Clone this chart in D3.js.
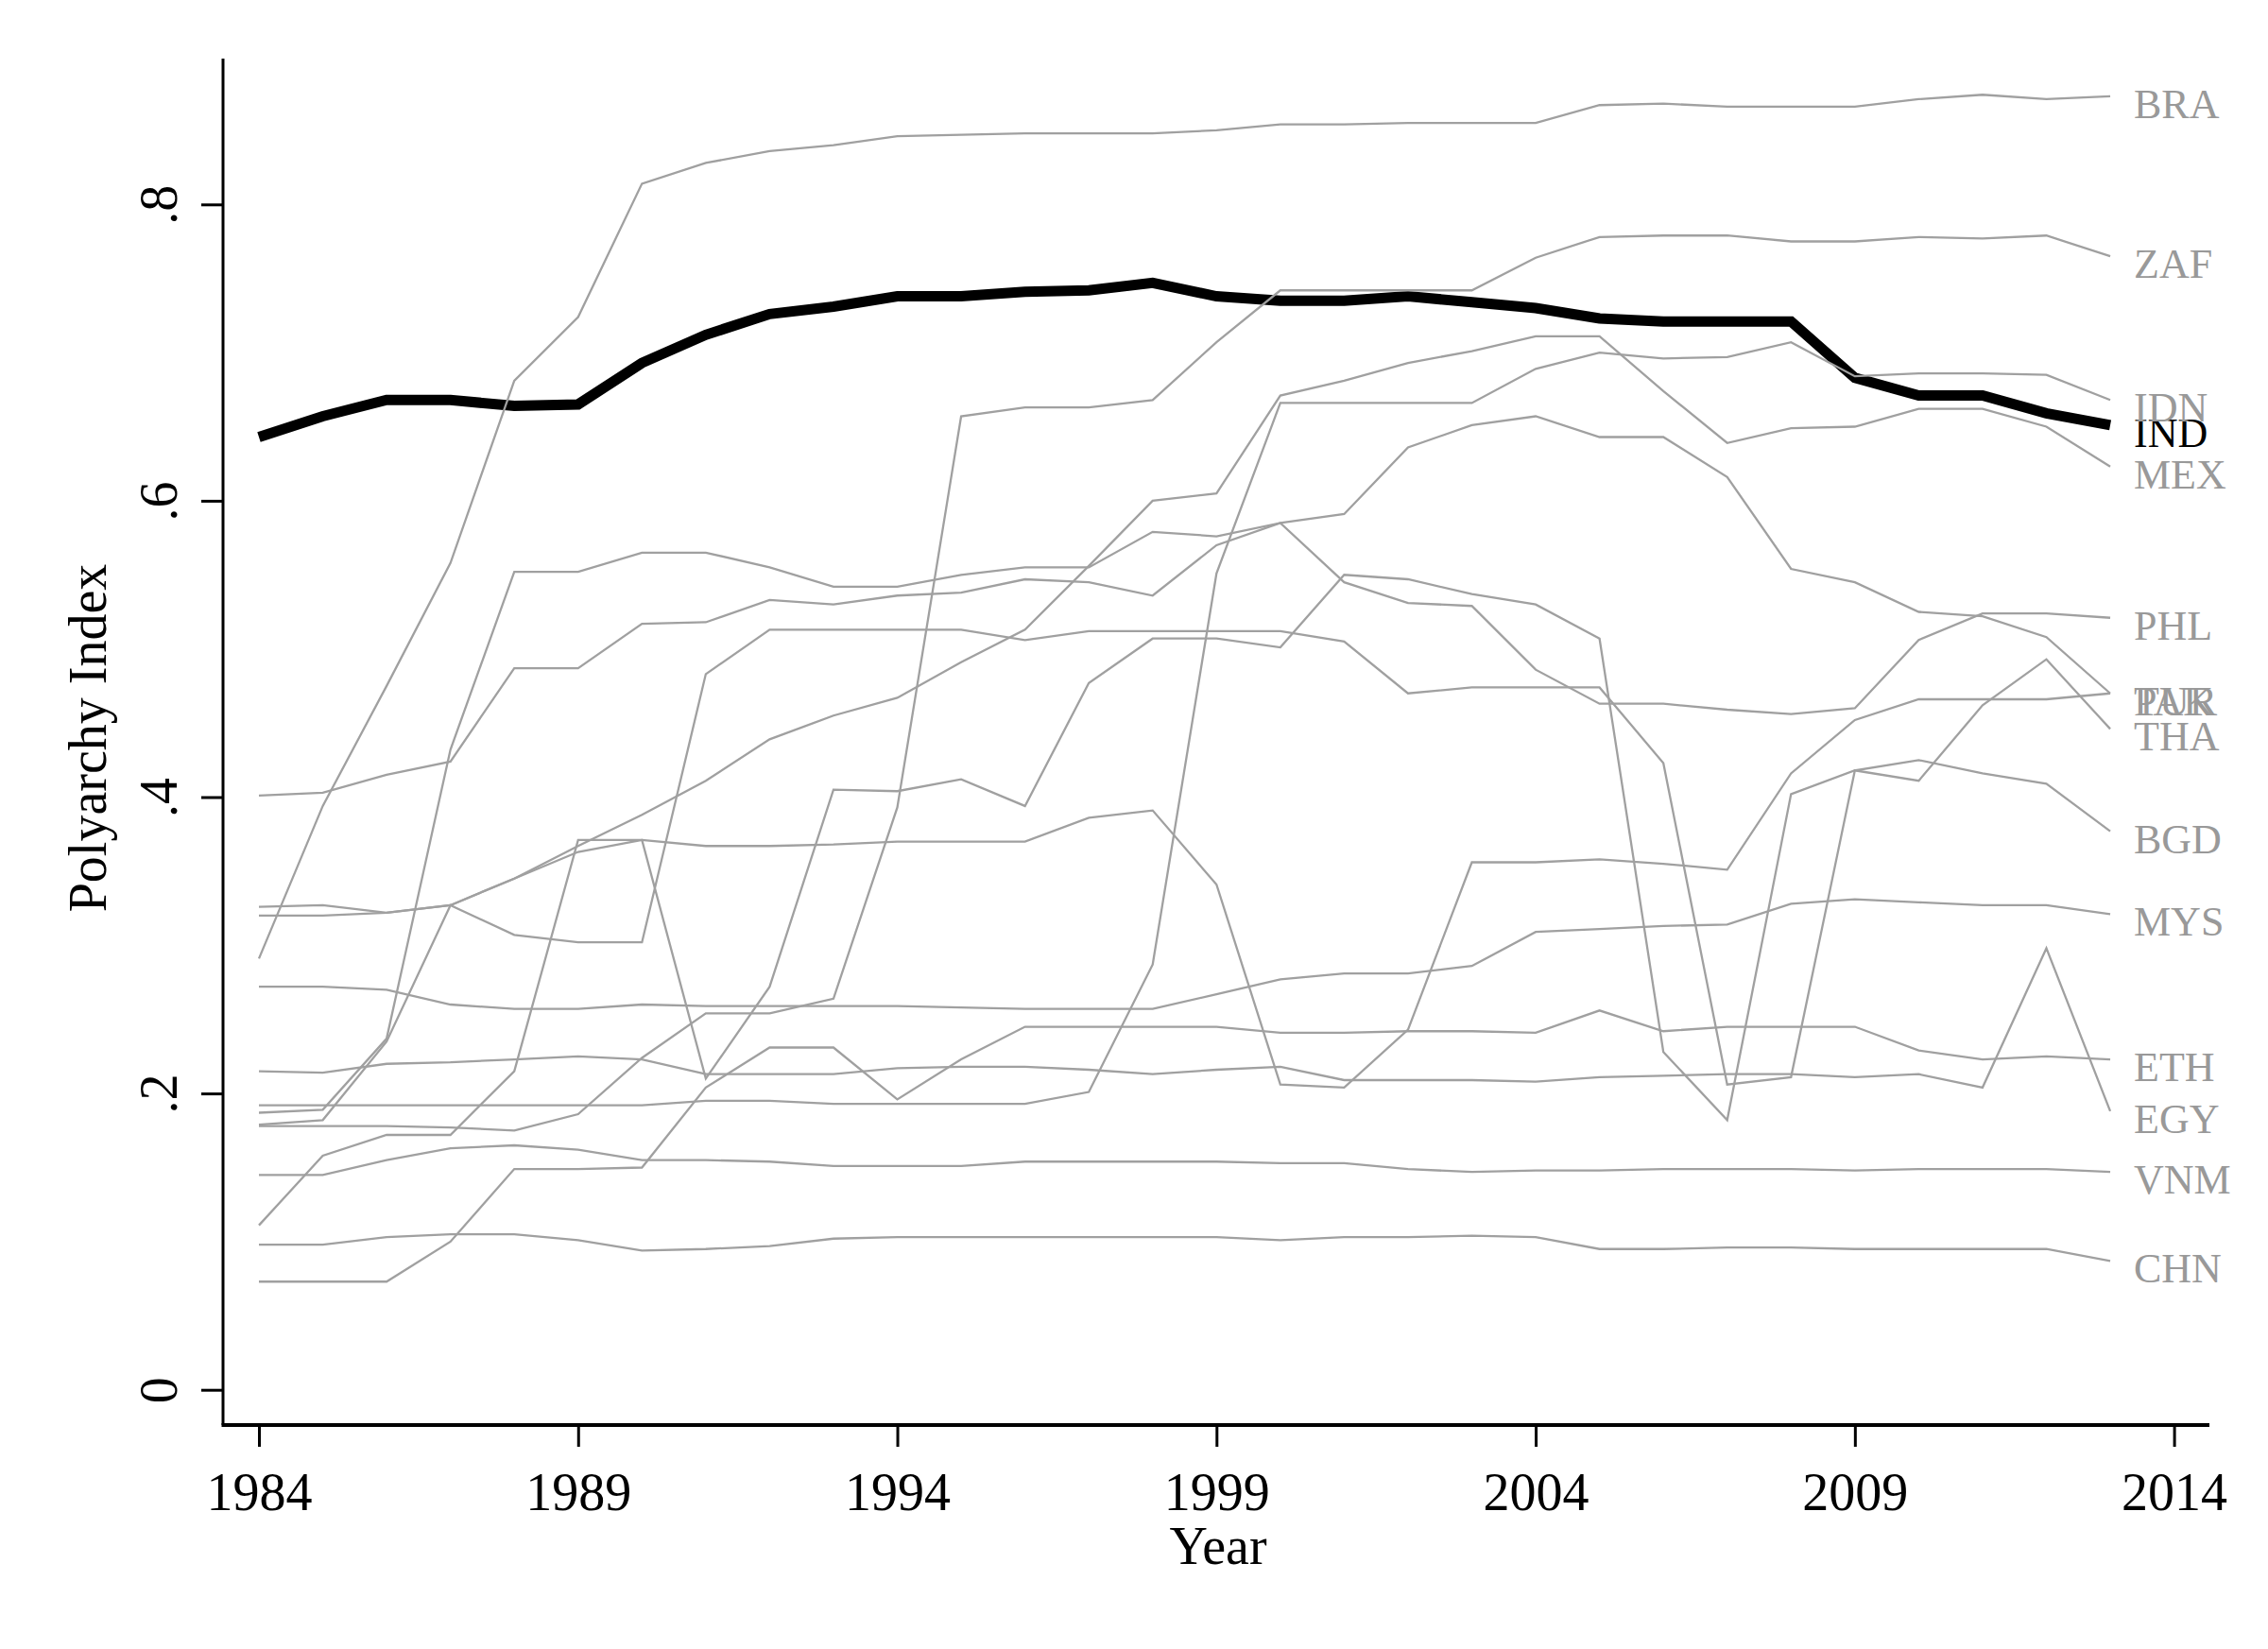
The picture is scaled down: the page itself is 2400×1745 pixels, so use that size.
<!DOCTYPE html>
<html>
<head>
<meta charset="utf-8">
<script src="https://cdn.jsdelivr.net/npm/d3@7/dist/d3.min.js"></script>
<style>
  body { margin: 0; background: #fff; }
  text { font-family: "Liberation Serif", "Times New Roman", serif; }
</style>
</head>
<body>
<div id="chart"></div>
<script>
var width = 2400,
    height = 1745;

// years on the x axis, one value per year for each country
var years = [1984, 1985, 1986, 1987, 1988, 1989, 1990, 1991, 1992, 1993,
             1994, 1995, 1996, 1997, 1998, 1999, 2000, 2001, 2002, 2003,
             2004, 2005, 2006, 2007, 2008, 2009, 2010, 2011, 2012, 2013];

var xTicks = [1984, 1989, 1994, 1999, 2004, 2009, 2014];
var yTicks = [0, 0.2, 0.4, 0.6, 0.8];
var yTickLabels = ["0", ".2", ".4", ".6", ".8"];

var ind = [.643, .657, .668, .668, .664, .665, .693, .712, .726, .731, .738, .738, .741, .742, .747,
           .738, .735, .735, .738, .734, .730, .723, .721, .721, .721, .683, .671, .671, .659, .651];
var bra = [.291, .394, .475, .558, .681, .724, .814, .828, .836, .840, .846, .847, .848, .848, .848,
           .850, .854, .854, .855, .855, .855, .867, .868, .866, .866, .866, .871, .874, .871, .873];
var zaf = [.178, .178, .178, .177, .175, .186, .224, .254, .254, .264, .393, .657, .663, .663, .668,
           .707, .742, .742, .742, .742, .764, .778, .779, .779, .775, .775, .778, .777, .779, .765];
var idn = [.192, .192, .192, .192, .192, .192, .192, .195, .195, .193, .193, .193, .193, .201, .287,
           .551, .666, .666, .666, .666, .689, .700, .696, .697, .707, .684, .686, .686, .685, .668];
var mex = [.320, .320, .322, .327, .345, .367, .388, .411, .439, .455, .467, .491, .513, .556, .600,
           .605, .671, .681, .693, .701, .711, .711, .674, .639, .649, .650, .662, .662, .650, .623];
var phl = [.187, .189, .237, .432, .552, .552, .565, .565, .555, .542, .542, .550, .555, .555, .579,
           .576, .585, .545, .531, .529, .486, .463, .463, .459, .456, .460, .506, .524, .524, .521];
var tur = [.401, .403, .415, .424, .487, .487, .517, .518, .533, .530, .536, .538, .547, .545, .536,
           .570, .585, .591, .636, .651, .657, .643, .643, .616, .554, .545, .525, .522, .508, .470];
var pak = [.326, .327, .322, .327, .345, .363, .371, .367, .367, .368, .370, .370, .370, .386, .391,
           .341, .206, .204, .243, .356, .356, .358, .355, .351, .416, .452, .466, .466, .466, .470];
var tha = [.111, .158, .172, .172, .215, .371, .371, .210, .272, .405, .404, .412, .394, .477, .507,
           .507, .501, .550, .547, .537, .530, .507, .228, .182, .402, .418, .411, .462, .493, .446];
var bgd = [.179, .182, .235, .327, .307, .302, .302, .483, .513, .513, .513, .513, .506, .512, .512,
           .512, .512, .505, .470, .474, .474, .474, .423, .206, .211, .418, .425, .416, .409, .377];
var mys = [.272, .272, .270, .260, .257, .257, .260, .259, .259, .259, .259, .258, .257, .257, .257,
           .267, .277, .281, .281, .286, .309, .311, .313, .314, .328, .331, .329, .327, .327, .321];
var eth = [.073, .073, .073, .100, .149, .149, .150, .204, .231, .231, .196, .223, .245, .245, .245,
           .245, .241, .241, .242, .242, .241, .256, .242, .245, .245, .245, .229, .223, .225, .223];
var egy = [.215, .214, .220, .221, .223, .225, .223, .213, .213, .213, .217, .218, .218, .216, .213,
           .216, .218, .209, .209, .209, .208, .211, .212, .213, .213, .211, .213, .204, .298, .188];
var vnm = [.145, .145, .155, .163, .165, .162, .155, .155, .154, .151, .151, .151, .154, .154, .154,
           .154, .153, .153, .149, .147, .148, .148, .149, .149, .149, .148, .149, .149, .149, .147];
var chn = [.098, .098, .103, .105, .105, .101, .094, .095, .097, .102, .103, .103, .103, .103, .103,
           .103, .101, .103, .103, .104, .103, .095, .095, .096, .096, .095, .095, .095, .095, .087];

var codes = ["IND", "BRA", "ZAF", "IDN", "MEX", "PHL", "TUR", "PAK", "THA", "BGD", "MYS", "ETH", "EGY", "VNM", "CHN"];
var values = [ind, bra, zaf, idn, mex, phl, tur, pak, tha, bgd, mys, eth, egy, vnm, chn];

var series = codes.map(function(code, i) {
    return { code: code, values: values[i] };
});

// plot box
var axisLeftX = 236,
    axisBottomY = 1508,
    axisTopY = 62,
    axisRightX = 2338;

var x = d3.scaleLinear().domain([1984, 2014]).range([274, 2300.6]);
var y = d3.scaleLinear().domain([0, 0.8]).range([1470.7, 216.3]);

var grey = "#a0a0a0";

var svg = d3.select("#chart").append("svg")
    .attr("width", width)
    .attr("height", height)
    .style("background", "#fff");

var line = d3.line()
    .x(function(d, i) { return x(years[i]); })
    .y(function(d) { return y(d); });

// India first, the grey lines are drawn over it
svg.selectAll("path.country")
    .data(series)
    .enter()
    .append("path")
    .attr("class", "country")
    .attr("d", function(s) { return line(s.values); })
    .attr("fill", "none")
    .attr("stroke", function(s) { return s.code == "IND" ? "#000" : grey; })
    .attr("stroke-width", function(s) { return s.code == "IND" ? 11 : 2.3; });

// end labels
svg.selectAll("text.lab")
    .data(series)
    .enter()
    .append("text")
    .attr("class", "lab")
    .attr("x", 2258)
    .attr("y", function(s) { return y(s.values[s.values.length - 1]) + 23; })
    .attr("font-size", 44)
    .attr("fill", function(s) { return s.code == "IND" ? "#000" : "#999"; })
    .text(function(s) { return s.code; });

// axes
var xAxis = svg.append("g")
    .attr("transform", "translate(0," + axisBottomY + ")")
    .call(d3.axisBottom(x).tickValues(xTicks).tickSize(23).tickFormat(d3.format("d")));
xAxis.select(".domain").remove();
xAxis.selectAll(".tick line").attr("stroke", "#000").attr("stroke-width", 3);
xAxis.selectAll(".tick text")
    .attr("y", 90)
    .attr("dy", null)
    .attr("font-size", 56)
    .attr("font-family", "Liberation Serif")
    .attr("fill", "#000");

var yAxis = svg.append("g")
    .attr("transform", "translate(" + axisLeftX + ",0)")
    .call(d3.axisLeft(y).tickValues(yTicks).tickSize(23)
        .tickFormat(function(d, i) { return yTickLabels[i]; }));
yAxis.select(".domain").remove();
yAxis.selectAll(".tick line").attr("stroke", "#000").attr("stroke-width", 3);
yAxis.selectAll(".tick text")
    .attr("x", null)
    .attr("dy", null)
    .attr("text-anchor", "middle")
    .attr("transform", "translate(-49,0) rotate(-90)")
    .attr("font-size", 56)
    .attr("font-family", "Liberation Serif")
    .attr("fill", "#000");

svg.append("line")
    .attr("x1", axisLeftX).attr("x2", axisLeftX)
    .attr("y1", axisTopY).attr("y2", axisBottomY)
    .attr("stroke", "#000").attr("stroke-width", 3);
svg.append("line")
    .attr("x1", axisLeftX - 1.5).attr("x2", axisRightX)
    .attr("y1", axisBottomY).attr("y2", axisBottomY)
    .attr("stroke", "#000").attr("stroke-width", 4);

// axis titles
svg.append("text")
    .attr("x", 1289)
    .attr("y", 1655)
    .attr("text-anchor", "middle")
    .attr("font-size", 56)
    .text("Year");

svg.append("text")
    .attr("transform", "translate(112,781) rotate(-90)")
    .attr("text-anchor", "middle")
    .attr("font-size", 56)
    .text("Polyarchy Index");
</script>
</body>
</html>
